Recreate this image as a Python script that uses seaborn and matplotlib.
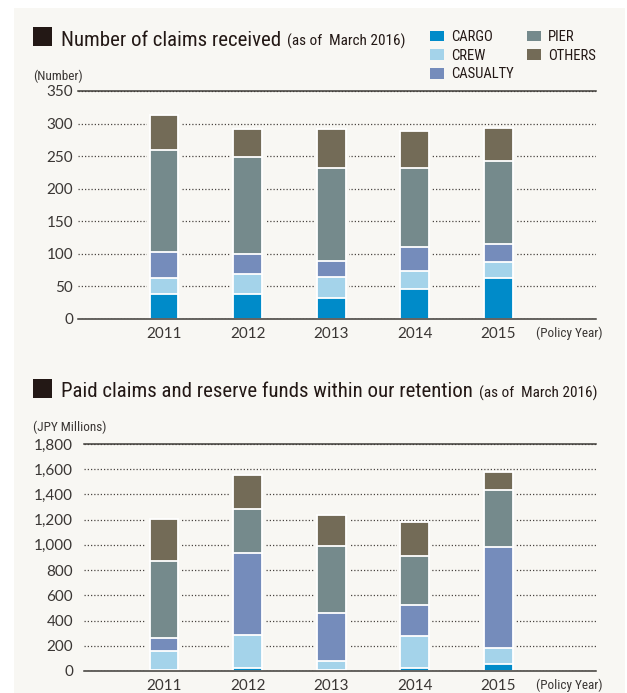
import matplotlib
matplotlib.use('Agg')
import matplotlib.pyplot as plt
import seaborn as sns
import numpy as np
from matplotlib.patches import Rectangle, Patch

# ---------------- data ----------------
years = ['2011', '2012', '2013', '2014', '2015']
categories = ['CARGO', 'CREW', 'CASUALTY', 'PIER', 'OTHERS']

claims_cargo = [38, 38, 32, 46, 63]
claims_crew = [25, 31, 33, 28, 24]
claims_casualty = [40, 31, 24, 36, 28]
claims_pier = [157, 148, 143, 122, 128]
claims_others = [53, 43, 60, 56, 50]

paid_cargo = [8, 24, 8, 24, 53]
paid_crew = [152, 264, 74, 254, 132]
paid_casualty = [105, 649, 381, 243, 797]
paid_pier = [611, 344, 530, 392, 450]
paid_others = [328, 270, 246, 265, 143]

claims_ticks = [0, 50, 100, 150, 200, 250, 300, 350]
paid_ticks = [0, 200, 400, 600, 800, 1000, 1200, 1400, 1600, 1800]

title1 = 'Number of claims received'
title2 = 'Paid claims and reserve funds within our retention'
subtitle = '(as of  March 2016)'
unit1 = '(Number)'
unit2 = '(JPY Millions)'
xunit = '(Policy Year)'

# ---------------- style ----------------
BG = '#F8F7F3'
COLORS = ['#008BC9', '#A4D3EA', '#758CBB', '#758A8C', '#736B57']
DARK = '#231815'
TXT = '#3a3634'
NARROW = ['Roboto Condensed', 'Liberation Sans Narrow', 'Roboto', 'DejaVu Sans']
TICKF = ['Lato', 'DejaVu Sans']

sns.set_theme(style='white')
plt.rcParams['font.family'] = TICKF

W, H = 627, 693
fig = plt.figure(figsize=(W / 100, H / 100), dpi=100)
fig.patch.set_facecolor('white')
fig.patches.append(Rectangle((14 / W, 0), (625 - 14) / W, 1 - 8 / H,
                             transform=fig.transFigure, facecolor=BG,
                             edgecolor='none', zorder=-5))


def px_rect(x0, y0, x1, y1):
    return [x0 / W, 1 - y1 / H, (x1 - x0) / W, (y1 - y0) / H]


def stacked(ax, series, ticks, fmt, xlim, pad):
    vals = np.array(series, dtype=float)
    cum = np.cumsum(vals, axis=0)
    ax.set_facecolor(BG)
    # halo behind bars so the dotted grid stops short of them
    sns.barplot(x=years, y=cum[-1], color=BG, width=0.42, ax=ax,
                saturation=1, linewidth=0, errorbar=None, zorder=1)
    for i in reversed(range(len(categories))):
        sns.barplot(x=years, y=cum[i], color=COLORS[i], width=0.344, ax=ax,
                    saturation=1, edgecolor='white', linewidth=1.3,
                    errorbar=None, zorder=2)
    ax.set_xlim(*xlim)
    ax.set_ylim(0, ticks[-1])
    ax.set_yticks(ticks)
    ax.set_yticklabels([fmt(t) for t in ticks])
    ax.set_xlabel('')
    ax.set_ylabel('')
    ax.set_axisbelow(True)
    ax.yaxis.grid(True, linestyle=(0, (1, 1.6)), color='#4a4541', linewidth=0.9)
    ax.xaxis.grid(False)
    for s in ['left', 'right']:
        ax.spines[s].set_visible(False)
    for s in ['top', 'bottom']:
        ax.spines[s].set_color('#3d3a36')
        ax.spines[s].set_linewidth(1.1)
    ax.tick_params(axis='y', length=0, pad=pad, labelsize=11, labelcolor=TXT)
    ax.tick_params(axis='x', length=0, pad=5.5, labelsize=11, labelcolor=TXT)


ax1 = fig.add_axes(px_rect(78, 91, 596, 319))
stacked(ax1, [claims_cargo, claims_crew, claims_casualty, claims_pier, claims_others],
        claims_ticks, lambda t: f'{t}', (-1.03, 5.17), 3.6)

ax2 = fig.add_axes(px_rect(84, 444, 596, 671))
stacked(ax2, [paid_cargo, paid_crew, paid_casualty, paid_pier, paid_others],
        paid_ticks, lambda t: f'{t:,}', (-0.958, 5.17), 7.9)

# ---------------- titles ----------------
def title(text, ytop):
    fig.patches.append(Rectangle((33 / W, 1 - (ytop + 19) / H), 19 / W, 19 / H,
                                 transform=fig.transFigure, facecolor=DARK,
                                 edgecolor='none', zorder=3))
    t = fig.text(61 / W, 1 - (ytop + 18.5) / H, text, family=NARROW,
                 fontsize=15, color=DARK, va='baseline', ha='left')
    fig.canvas.draw()
    bb = t.get_window_extent()
    fig.text((bb.x1 + 6) / W, 1 - (ytop + 18.5) / H, subtitle, family=NARROW,
             fontsize=11, color=DARK, va='baseline', ha='left')


title(title1, 27)
title(title2, 379)

fig.text(33 / W, 1 - 76 / H, unit1, family=NARROW, fontsize=9.5, color=TXT,
         va='center', ha='left')
fig.text(33 / W, 1 - 427 / H, unit2, family=NARROW, fontsize=9.5, color=TXT,
         va='center', ha='left')
fig.text(603 / W, 1 - 333 / H, xunit, family=NARROW, fontsize=9.5, color=TXT,
         va='center', ha='right')
fig.text(603 / W, 1 - 685 / H, xunit, family=NARROW, fontsize=9.5, color=TXT,
         va='center', ha='right')

# ---------------- legend ----------------
handles = [Patch(facecolor=c, edgecolor='none', label=l) for c, l in zip(COLORS, categories)]
leg = fig.legend(handles=handles, loc='upper left', ncol=2,
                 bbox_to_anchor=(430 / W, 1 - 30 / H), frameon=False,
                 prop={'family': NARROW, 'size': 10.5}, handlelength=0.95,
                 handleheight=0.75, handletextpad=0.5, labelspacing=0.32,
                 columnspacing=0.9, borderaxespad=0, borderpad=0)
for t in leg.get_texts():
    t.set_color(DARK)

fig.savefig('out.png', dpi=100, facecolor=fig.get_facecolor())
